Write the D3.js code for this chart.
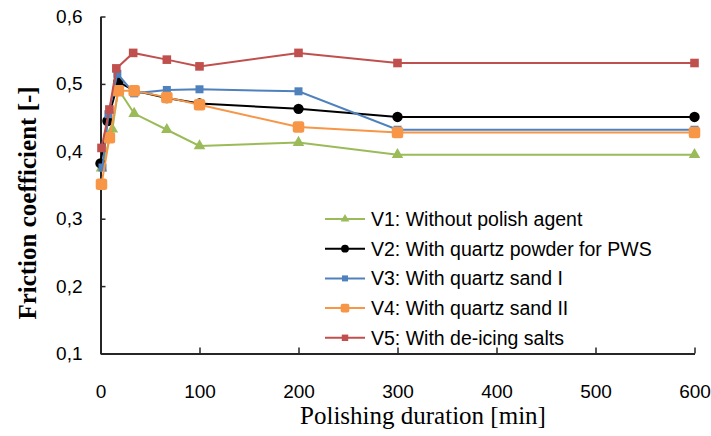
<!DOCTYPE html>
<html>
<head>
<meta charset="utf-8">
<script src="https://cdn.jsdelivr.net/npm/d3@7"></script>
<style>
  body { margin: 0; background: #fff; }
  svg { display: block; }
</style>
</head>
<body>
<div id="container"></div>
<script>
// ------ Data ------
// each point: [polishing duration in min, friction coefficient]
const v1 = [[1, 0.375], [12, 0.433], [18, 0.492], [34, 0.456], [67, 0.432], [100, 0.408], [200, 0.413], [300, 0.395], [600, 0.395]];
const v2 = [[0, 0.382], [7, 0.445], [18, 0.503], [34, 0.490], [67, 0.479], [100, 0.471], [200, 0.463], [300, 0.451], [600, 0.451]];
const v3 = [[2, 0.376], [8, 0.455], [17, 0.515], [34, 0.486], [67, 0.491], [100, 0.492], [200, 0.489], [300, 0.432], [600, 0.432]];
const v4 = [[1, 0.351], [9, 0.420], [18, 0.490], [34, 0.490], [67, 0.480], [100, 0.469], [200, 0.436], [300, 0.428], [600, 0.428]];
const v5 = [[1, 0.405], [9, 0.462], [16, 0.523], [33, 0.546], [67, 0.536], [100, 0.526], [200, 0.546], [300, 0.531], [600, 0.531]];

const seriesNames = [
  'V1: Without polish agent',
  'V2: With quartz powder for PWS',
  'V3: With quartz sand I',
  'V4: With quartz sand II',
  'V5: With de-icing salts'
];
const xTicks = [0, 100, 200, 300, 400, 500, 600];
const yTicks = [0.1, 0.2, 0.3, 0.4, 0.5, 0.6];

// ------ Global Values ------
const width = 711,
  height = 436;

const series = [
  { name: seriesNames[0], data: v1, color: '#9BBB59', marker: 'triangle' },
  { name: seriesNames[1], data: v2, color: '#000000', marker: 'circle' },
  { name: seriesNames[2], data: v3, color: '#4F81BD', marker: 'square' },
  { name: seriesNames[3], data: v4, color: '#F79646', marker: 'round' },
  { name: seriesNames[4], data: v5, color: '#C0504D', marker: 'square2' }
];

const svg = d3.select('#container').append('svg')
  .attr('width', width)
  .attr('height', height);

const x = d3.scaleLinear().domain([0, 600]).range([100.5, 694.5]);
const y = d3.scaleLinear().domain([0.1, 0.6]).range([353.5, 16.5]);

const axisColor = '#262626';
const tickFont = '"Liberation Sans", Arial, sans-serif';

// axes
const xAxis = svg.append('g')
  .attr('transform', `translate(0,${y(0.1)})`)
  .call(d3.axisBottom(x).tickValues(xTicks).tickSizeInner(-6).tickSizeOuter(0).tickPadding(31));

const yAxis = svg.append('g')
  .attr('transform', `translate(${x(0)},0)`)
  .call(d3.axisLeft(y).tickValues(yTicks).tickSizeInner(-5).tickSizeOuter(0).tickPadding(18)
    .tickFormat(d => d3.format('.1f')(d).replace('.', ',')));

[xAxis, yAxis].forEach(a => {
  a.select('.domain').attr('stroke', axisColor).attr('stroke-width', 2);
  a.selectAll('.tick line').attr('stroke', axisColor).attr('stroke-width', 1.5);
  a.selectAll('.tick text')
    .attr('fill', '#000')
    .style('font-family', tickFont)
    .style('font-size', '19px');
});

// axis titles
svg.append('text')
  .attr('x', 423)
  .attr('y', 424)
  .attr('text-anchor', 'middle')
  .style('font-family', '"Liberation Serif", "Times New Roman", serif')
  .style('font-size', '25px')
  .text('Polishing duration [min]');

svg.append('text')
  .attr('transform', 'translate(36,203) rotate(-90)')
  .attr('text-anchor', 'middle')
  .style('font-family', '"Liberation Serif", "Times New Roman", serif')
  .style('font-size', '25px')
  .style('font-weight', 'bold')
  .text('Friction coefficient [-]');

// markers
function drawMarker(g, type, color, k) {
  if (type === 'triangle') {
    g.append('path').attr('d', d3.symbol(d3.symbolTriangle, 58 * k * k)()).attr('fill', color);
  } else if (type === 'circle') {
    g.append('circle').attr('r', 5.2 * k).attr('fill', color);
  } else if (type === 'square') {
    const s = 8 * k;
    g.append('rect').attr('x', -s / 2).attr('y', -s / 2).attr('width', s).attr('height', s).attr('fill', color);
  } else if (type === 'square2') {
    const s = 8.6 * k;
    g.append('rect').attr('x', -s / 2).attr('y', -s / 2).attr('width', s).attr('height', s).attr('fill', color);
  } else {
    const s = 11.5 * k;
    g.append('rect').attr('x', -s / 2).attr('y', -s / 2).attr('width', s).attr('height', s)
      .attr('rx', 2.5 * k).attr('fill', color);
  }
}

const line = d3.line().x(d => x(d[0])).y(d => y(d[1]));

for (let s of series) {
  const g = svg.append('g').attr('class', 'series');
  g.append('path')
    .attr('d', line(s.data))
    .attr('fill', 'none')
    .attr('stroke', s.color)
    .attr('stroke-width', 2);
  g.selectAll('.pt').data(s.data)
    .enter().append('g')
    .attr('class', 'pt')
    .attr('transform', d => `translate(${x(d[0])},${y(d[1])})`)
    .each(function() { drawMarker(d3.select(this), s.marker, s.color, 1); });
}

// legend
const legend = svg.append('g').attr('transform', 'translate(325,219)');
series.forEach((s, i) => {
  const row = legend.append('g').attr('transform', `translate(0,${i * 29.7})`);
  row.append('line').attr('x1', 0).attr('x2', 40).attr('stroke', s.color).attr('stroke-width', 2);
  const m = row.append('g').attr('transform', 'translate(20,0)');
  drawMarker(m, s.marker, s.color, 0.75);
  row.append('text')
    .attr('x', 46)
    .attr('y', 7)
    .style('font-family', tickFont)
    .style('font-size', '19.5px')
    .text(s.name);
});
</script>
</body>
</html>
